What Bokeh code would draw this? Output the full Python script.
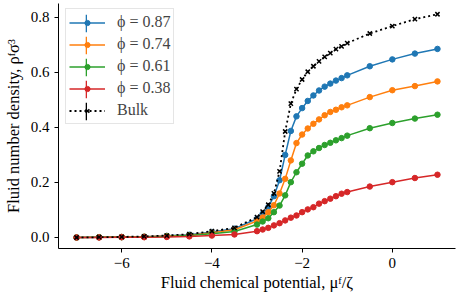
from bokeh.plotting import figure
from bokeh.models import FixedTicker, Legend, LegendItem
from bokeh.embed import file_html
from bokeh.resources import INLINE

# ---- data ----
mu = [-7.0, -6.5, -6.0, -5.5, -5.0, -4.5, -4.0, -3.5,
      -3.0, -2.875, -2.75, -2.625, -2.5, -2.375, -2.25, -2.125,
      -2.0, -1.875, -1.75, -1.625, -1.5, -1.375, -1.25, -1.125,
      -1.0, -0.5, 0.0, 0.5, 1.0]

rho_087 = [0.000, 0.001, 0.002, 0.003, 0.006, 0.010, 0.020, 0.032,
           0.068, 0.086, 0.110, 0.150, 0.208, 0.300, 0.387, 0.440,
           0.470, 0.496, 0.516, 0.534, 0.548, 0.559, 0.570, 0.579,
           0.589, 0.622, 0.647, 0.668, 0.685]

rho_074 = [0.000, 0.001, 0.002, 0.003, 0.005, 0.008, 0.017, 0.028,
           0.060, 0.073, 0.092, 0.117, 0.160, 0.213, 0.280, 0.343,
           0.374, 0.396, 0.413, 0.429, 0.444, 0.456, 0.464, 0.473,
           0.480, 0.510, 0.535, 0.550, 0.567]

rho_061 = [0.000, 0.001, 0.001, 0.002, 0.004, 0.007, 0.014, 0.022,
           0.047, 0.058, 0.070, 0.092, 0.116, 0.153, 0.201, 0.237,
           0.268, 0.298, 0.313, 0.325, 0.336, 0.344, 0.353, 0.361,
           0.370, 0.397, 0.416, 0.432, 0.446]

rho_038 = [0.000, 0.000, 0.001, 0.001, 0.002, 0.004, 0.007, 0.011,
           0.023, 0.029, 0.035, 0.044, 0.052, 0.062, 0.072, 0.080,
           0.092, 0.102, 0.110, 0.123, 0.132, 0.141, 0.150, 0.159,
           0.165, 0.185, 0.201, 0.216, 0.228]

rho_bulk = [0.000, 0.001, 0.002, 0.004, 0.007, 0.012, 0.023, 0.035,
            0.074, 0.094, 0.119, 0.160, 0.240, 0.385, 0.486, 0.539,
            0.574, 0.602, 0.622, 0.640, 0.656, 0.670, 0.684, 0.694,
            0.706, 0.741, 0.768, 0.793, 0.811]

series = [rho_087, rho_074, rho_061, rho_038]
series_labels = ["ϕ = 0.87", "ϕ = 0.74", "ϕ = 0.61", "ϕ = 0.38"]
bulk_label = "Bulk"
colors = ["#1f77b4", "#ff7f0e", "#2ca02c", "#d62728"]

x_ticks = [-6, -4, -2, 0]
x_tick_labels = ["−6", "−4", "−2", "0"]
y_ticks = [0.0, 0.2, 0.4, 0.6, 0.8]
y_tick_labels = ["0.0", "0.2", "0.4", "0.6", "0.8"]

x_title = "Fluid chemical potential, μᶠ/ζ"
y_title = "Fluid number density, ρᶠσ³"

FONT = "Liberation Serif"
TICK_FS = "15px"
LABEL_FS = "16.5px"
LEG_FS = "16px"

p = figure(width=457, height=294, x_range=(-7.4, 1.4), y_range=(-0.04, 0.85),
           output_backend="svg", toolbar_location=None,
           min_border_left=52, min_border_right=2, min_border_top=3,
           min_border_bottom=46)
p.outline_line_color = None
p.xgrid.visible = False
p.ygrid.visible = False
p.background_fill_color = "white"
p.border_fill_color = "white"

items = []
bar_items = []
for ys, lab, col in zip(series, series_labels, colors):
    lr = p.line(mu, ys, line_color=col, line_width=1.5)
    sr = p.scatter(mu, ys, marker="circle", size=5.5, fill_color=col, line_color=col)
    items.append(LegendItem(label=lab, renderers=[lr, sr]))
    # zero-size bar (invisible in the plot) used only as the error-bar glyph of the legend
    eb = p.vbar(x=mu[:1], bottom=ys[:1], top=ys[:1], width=0.0,
                fill_color=col, line_color=None)
    bar_items.append(LegendItem(label=" ", renderers=[eb]))

lb = p.line(mu, rho_bulk, line_color="black", line_width=1.8, line_dash="2 3")
sb = p.scatter(mu, rho_bulk, marker="x", size=6, line_color="black", line_width=1.5)
items.append(LegendItem(label=bulk_label, renderers=[lb, sb]))
ebb = p.vbar(x=mu[:1], bottom=rho_bulk[:1], top=rho_bulk[:1], width=0.0,
             fill_color="black", line_color=None)
bar_items.append(LegendItem(label=" ", renderers=[ebb]))

# main legend: bottom-left corner given relative to the frame (pixels)
legend = Legend(items=items, location=(7, 124), margin=0, padding=3, spacing=2,
                glyph_width=36, glyph_height=13, label_height=20, label_standoff=12,
                label_text_font=FONT, label_text_font_size=LEG_FS,
                border_line_color="#cccccc", border_line_width=1,
                background_fill_color="white", background_fill_alpha=0.85)
p.add_layout(legend)

# overlay legend that only draws the vertical error-bar ticks
bars = Legend(items=bar_items, location=(27, 126), margin=0, padding=0, spacing=0,
              glyph_width=2, glyph_height=22, label_height=22, label_standoff=0,
              label_text_font=FONT, label_text_font_size="8px",
              border_line_color=None, background_fill_alpha=0.0)
p.add_layout(bars)

for ax in (p.xaxis[0], p.yaxis[0]):
    ax.major_tick_out = 4
    ax.major_tick_in = 0
    ax.minor_tick_out = 0
    ax.minor_tick_in = 0
    ax.axis_line_color = "black"
    ax.axis_line_width = 1
    ax.major_tick_line_color = "black"
    ax.major_label_text_font = FONT
    ax.major_label_text_font_size = TICK_FS
    ax.major_label_text_color = "black"
    ax.axis_label_text_font = FONT
    ax.axis_label_text_font_size = LABEL_FS
    ax.axis_label_text_font_style = "normal"
    ax.axis_label_text_color = "black"
    ax.major_label_standoff = 5

p.xaxis[0].ticker = FixedTicker(ticks=x_ticks)
p.xaxis[0].major_label_overrides = dict(zip(x_ticks, x_tick_labels))
p.yaxis[0].ticker = FixedTicker(ticks=y_ticks)
p.yaxis[0].major_label_overrides = dict(zip(y_ticks, y_tick_labels))
p.xaxis[0].axis_label = x_title
p.yaxis[0].axis_label = y_title
p.xaxis[0].axis_label_standoff = 2
p.yaxis[0].axis_label_standoff = 5

open("out.html", "w").write(file_html(p, INLINE))
